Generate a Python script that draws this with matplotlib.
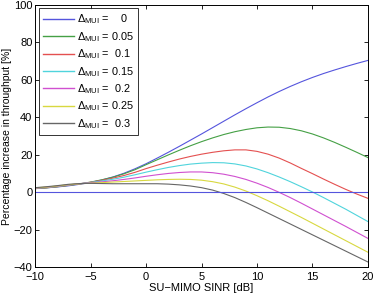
import matplotlib
matplotlib.use("Agg")
import matplotlib.pyplot as plt
from matplotlib.ticker import MultipleLocator

plt.rcParams['font.family'] = ['Liberation Sans', 'DejaVu Sans']
plt.rcParams['mathtext.fontset'] = 'custom'
plt.rcParams['mathtext.rm'] = 'Liberation Sans'
plt.rcParams['mathtext.it'] = 'Liberation Sans'
plt.rcParams['axes.unicode_minus'] = True

sinr_db = list(range(-10, 21))

delta_labels = ["   0", "0.05", " 0.1", "0.15", " 0.2", "0.25", " 0.3"]

gain_d000 = [1.9, 2.3, 2.8, 3.4, 4.2, 5.2, 6.5, 8.1, 10.1, 12.5,
             15.2, 18.2, 21.3, 24.5, 27.8, 31.1, 34.5, 37.9, 41.3, 44.6,
             47.8, 50.9, 53.8, 56.5, 59.0, 61.3, 63.4, 65.3, 67.1, 68.8, 70.4]
gain_d005 = [1.9, 2.3, 2.9, 3.6, 4.4, 5.4, 6.6, 8.0, 9.8, 12.0,
             14.7, 17.3, 19.9, 22.4, 24.8, 27.0, 29.0, 30.8, 32.3, 33.5,
             34.4, 34.8, 34.7, 34.0, 32.8, 31.1, 29.0, 26.6, 24.0, 21.3, 18.5]
gain_d010 = [2.0, 2.4, 3.0, 3.7, 4.5, 5.3, 6.3, 7.5, 8.9, 10.6,
             12.6, 14.4, 16.1, 17.7, 19.1, 20.3, 21.3, 22.1, 22.6, 22.6,
             21.8, 20.3, 18.2, 15.6, 12.7, 9.9, 7.0, 4.2, 1.5, -1.0, -3.3]
gain_d015 = [2.1, 2.5, 3.1, 3.8, 4.5, 5.2, 6.0, 6.9, 8.0, 9.3,
             10.7, 12.0, 13.2, 14.2, 15.0, 15.5, 15.8, 15.7, 15.1, 14.0,
             12.4, 10.4, 8.1, 5.6, 2.9, 0.1, -2.9, -6.0, -9.1, -12.4, -15.7]
gain_d020 = [2.2, 2.6, 3.2, 3.9, 4.5, 5.0, 5.5, 6.1, 6.8, 7.6,
             8.5, 9.3, 10.0, 10.5, 10.8, 10.8, 10.4, 9.6, 8.4, 6.8,
             4.8, 2.5, -0.1, -2.9, -5.9, -9.0, -12.1, -15.2, -18.3, -21.5, -24.7]
gain_d025 = [2.3, 2.7, 3.3, 4.0, 4.5, 4.8, 5.1, 5.4, 5.7, 6.0,
             6.3, 6.6, 6.8, 6.9, 6.8, 6.4, 5.6, 4.4, 2.7, 0.6,
             -1.9, -4.6, -7.5, -10.5, -13.5, -16.6, -19.7, -22.8, -25.9, -29.0, -32.1]
gain_d030 = [2.4, 2.9, 3.5, 4.2, 4.6, 4.7, 4.6, 4.5, 4.5, 4.5,
             4.5, 4.5, 4.3, 3.9, 3.3, 2.4, 1.1, -0.7, -2.9, -5.5,
             -8.3, -11.2, -14.1, -17.0, -19.9, -22.8, -25.7, -28.6, -31.5, -34.4, -37.3]

series = [gain_d000, gain_d005, gain_d010, gain_d015, gain_d020, gain_d025, gain_d030]
colors = ['#5555dd', '#45a045', '#e45050', '#50d4dc', '#d050d0', '#d8d840', '#666666']

fig = plt.figure(figsize=(3.75, 2.97), dpi=100)
ax = fig.add_axes([0.094, 0.101, 0.887, 0.882])

for vals, c, lab in zip(series, colors, delta_labels):
    ax.plot(sinr_db, vals, color=c, lw=0.8,
            label=r'$\Delta_{\mathrm{MUI}}$ = ' + lab)
ax.axhline(0, color=colors[0], lw=0.8)

ax.set_xlim(-10, 20)
ax.set_ylim(-40, 100)
ax.xaxis.set_major_locator(MultipleLocator(5))
ax.yaxis.set_major_locator(MultipleLocator(20))
ax.tick_params(direction='in', top=True, right=True, labelsize=8, length=3, width=0.6)
ax.tick_params(axis='x', pad=3.5)
ax.tick_params(axis='y', pad=2)
for s in ax.spines.values():
    s.set_linewidth(0.7)

ax.set_xlabel('SU\u2212MIMO SINR [dB]', fontsize=8, labelpad=1)
ax.set_ylabel('Percentage increase in throughput [%]', fontsize=7.5, labelpad=1)

leg = ax.legend(loc='upper left', fontsize=7.8, frameon=True, fancybox=False,
                edgecolor='black', handlelength=2.9, handletextpad=0.25,
                labelspacing=0.33, borderpad=0.4, borderaxespad=0.3)
leg.get_frame().set_linewidth(0.7)
for line in leg.get_lines():
    line.set_linewidth(1.0)

fig.savefig('out.png', dpi=100)
